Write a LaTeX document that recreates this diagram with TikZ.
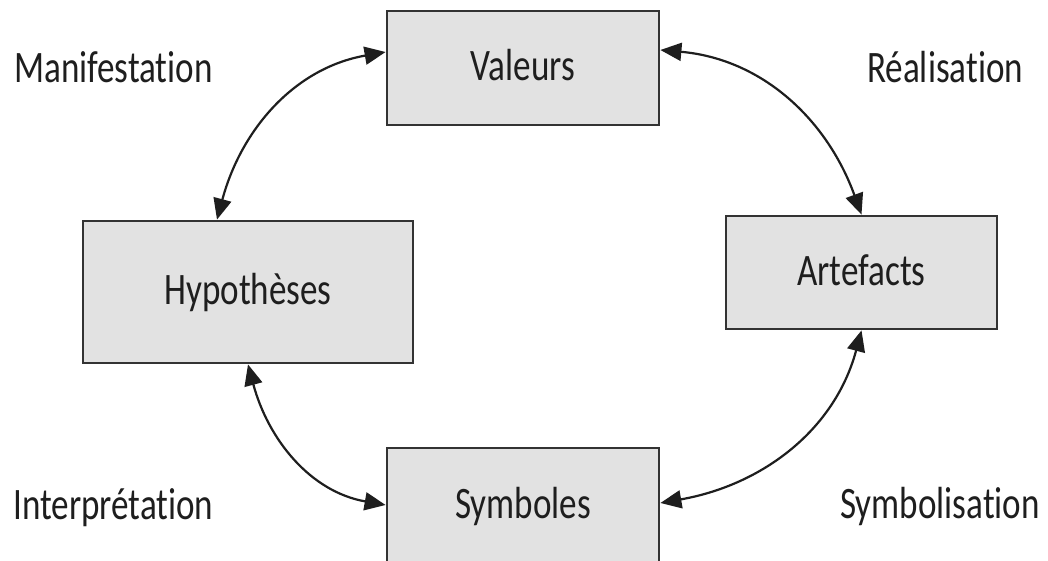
\documentclass[tikz,border=0pt]{standalone}
\usepackage{fontspec}
\setmainfont[FakeStretch=0.78, Ligatures=NoCommon]{Carlito}
\usetikzlibrary{arrows.meta}
\definecolor{boxgray}{HTML}{E2E2E2}
\definecolor{edgegray}{HTML}{333333}
\definecolor{inkgray}{HTML}{1E1E1E}
\tikzset{
	box/.style={draw=edgegray, fill=boxgray, line width=2.8pt, inner sep=0pt,
		text height=36pt, text depth=10pt, text=inkgray,
		font=\fontsize{45}{54}\selectfont},
	lbl/.style={anchor=base west, inner sep=0pt, text=inkgray,
		font=\fontsize{45}{54}\selectfont},
	link/.style={line width=2.2pt, draw=inkgray,
		{Triangle[length=21pt,width=18pt]}-{Triangle[length=21pt,width=18pt]}}
}

\begin{document}
\begin{tikzpicture}[x=1pt, y=1pt]
			%%%%% START %%%%%
			
			\useasboundingbox (0, 0) rectangle (1048, 560);
			
			\node[box, minimum width=272, minimum height=114] (val) at (523, 492) {Valeurs};
			\node[box, minimum width=330, minimum height=142] (hyp) at (248, 268) {Hypothèses};
			\node[box, minimum width=271, minimum height=113] (art) at (861.5, 287.5) {Artefacts};
			\node[box, minimum width=272, minimum height=114] (sym) at (523, 55) {Symboles};
			
			\node[lbl] (manif) at (14, 477) {Manifestation};
			\node[lbl] (real) at (867, 477) {Réalisation};
			\node[lbl] (interp) at (13, 41) {Interprétation};
			\node[lbl] (symb) at (840, 42) {Symbolisation};
			
			\draw[link] ([yshift=16pt]val.west) to[out=190, in=75] ([xshift=-31pt]hyp.north);
			\draw[link] ([yshift=18pt]val.east) to[out=-5, in=110] (art.north);
			\draw[link] (hyp.south) to[out=-75, in=170] (sym.west);
			\draw[link] (art.south) to[out=-105, in=10] ([yshift=2pt]sym.east);
			
			%%%%% END %%%%%
\end{tikzpicture}
\end{document}
